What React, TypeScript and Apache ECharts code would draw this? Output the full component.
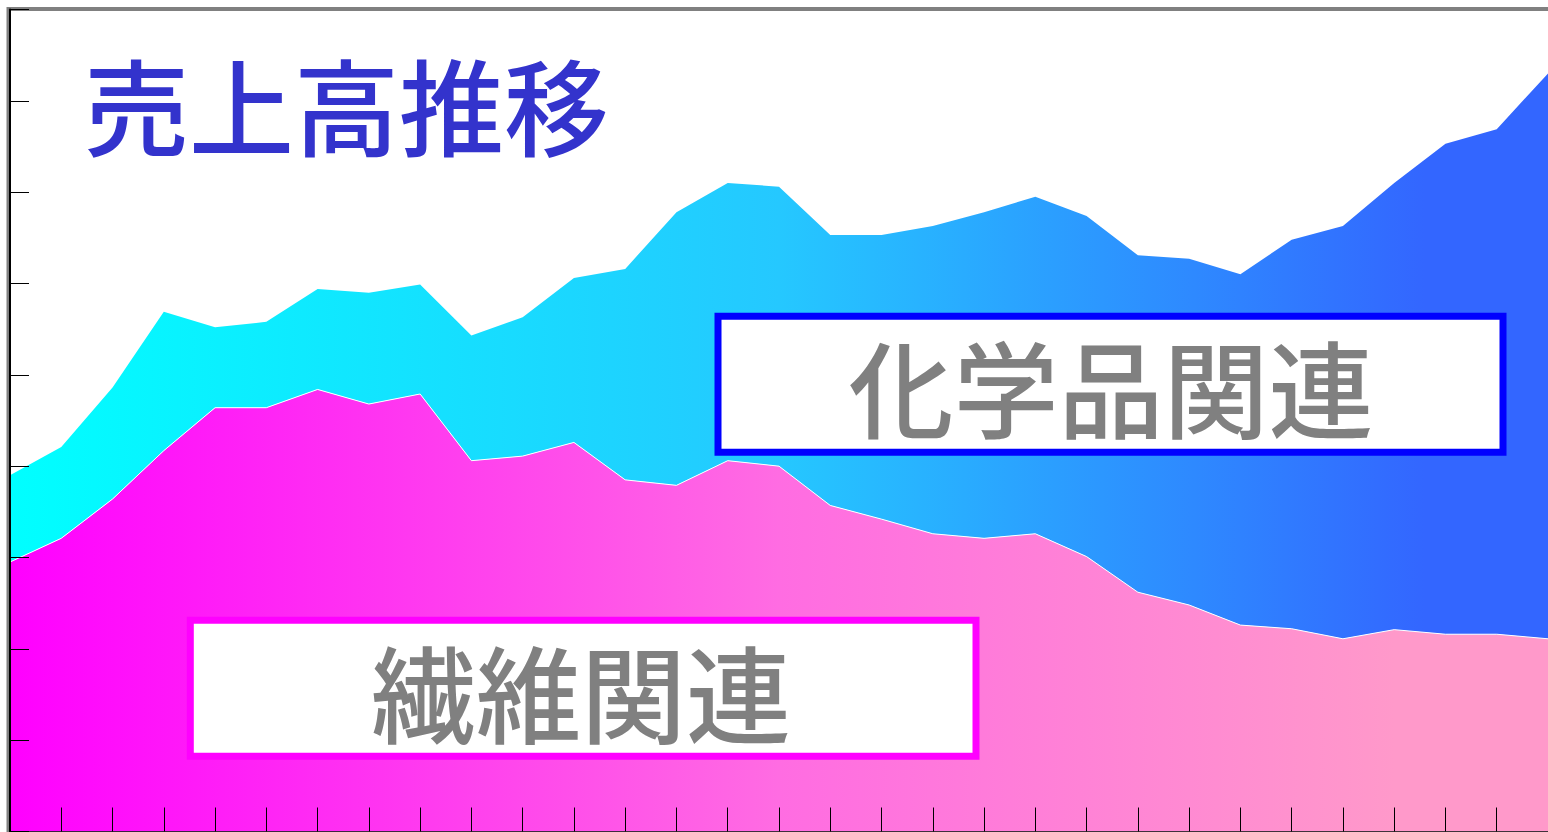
import React, { useEffect, useRef } from "react";
import * as echarts from "echarts";

const categories: string[] = Array.from({ length: 31 }, (_, i) => String(i + 1));

// 繊維関連 (bottom layer)
const fiberValues: number[] = [
  295, 321, 364, 417, 464, 464, 484, 468, 479, 406, 411, 426, 385, 379, 406, 400,
  357, 342, 326, 321, 326, 301, 262, 248, 226, 222, 211, 221, 216, 216, 211,
];

// 化学品関連 (stacked on top)
const chemValues: number[] = [
  95, 100, 122, 152, 88, 94, 110, 122, 120, 137, 152, 180, 231, 299, 304, 306,
  296, 311, 337, 357, 369, 373, 369, 379, 384, 426, 452, 489, 537, 553, 619,
];

const titleText = "売上高推移";
const chemLabel = "化学品関連";
const fiberLabel = "繊維関連";

const FONT = "'Noto Sans CJK JP', 'Noto Sans', sans-serif";

export default function App() {
  const ref = useRef<HTMLDivElement>(null);

  useEffect(() => {
    if (!ref.current) return;
    const chart = echarts.init(ref.current, undefined, { renderer: "svg" });
    chart.setOption({
      animation: false,
      backgroundColor: "#ffffff",
      grid: { left: 10, right: 0, top: 9.5, bottom: 0.5, outerBoundsMode: "none" },
      xAxis: {
        type: "category",
        data: categories,
        boundaryGap: false,
        z: 10,
        axisLine: { show: true, lineStyle: { color: "#000000", width: 1.5 } },
        axisTick: { show: true, inside: true, length: 24, lineStyle: { color: "#000000", width: 1 } },
        axisLabel: { show: false },
        splitLine: { show: false },
      },
      yAxis: {
        type: "value",
        min: 0,
        max: 900,
        interval: 100,
        z: 10,
        axisLine: { show: true, lineStyle: { color: "#000000", width: 2 } },
        axisTick: { show: true, inside: true, length: 19, lineStyle: { color: "#000000", width: 1 } },
        axisLabel: { show: false },
        splitLine: { show: false },
      },
      series: [
        {
          name: fiberLabel,
          type: "line",
          stack: "total",
          data: fiberValues,
          showSymbol: false,
          symbol: "none",
          lineStyle: { color: "#ffffff", width: 1 },
          areaStyle: {
            opacity: 1,
            color: new echarts.graphic.LinearGradient(0, 0, 1, 0, [
              { offset: 0, color: "#ff00ff" },
              { offset: 0.5, color: "#ff6ce2" },
              { offset: 0.9, color: "#ff99ca" },
              { offset: 1, color: "#ff99ca" },
            ]),
          },
        },
        {
          name: chemLabel,
          type: "line",
          stack: "total",
          data: chemValues,
          showSymbol: false,
          symbol: "none",
          lineStyle: { width: 0, color: "#ffffff" },
          areaStyle: {
            opacity: 1,
            color: new echarts.graphic.LinearGradient(0, 0, 1, 0, [
              { offset: 0, color: "#00ffff" },
              { offset: 0.5, color: "#25c8ff" },
              { offset: 0.92, color: "#3366ff" },
              { offset: 1, color: "#3366ff" },
            ]),
          },
        },
      ],
      graphic: [
        {
          type: "polyline",
          z: 1,
          shape: { points: [[8.5, 832], [8.5, 9], [1548, 9]] },
          style: { stroke: "#808080", lineWidth: 4, fill: null },
        },
        {
          type: "text",
          z: 20,
          x: 84,
          y: 102,
          style: {
            text: titleText,
            font: `500 105px ${FONT}`,
            fill: "#3333cc",
            textAlign: "left",
            textVerticalAlign: "middle",
          },
        },
        {
          type: "rect",
          z: 20,
          shape: { x: 718, y: 316.3, width: 785, height: 136 },
          style: { fill: "#ffffff", stroke: "#0000ff", lineWidth: 7 },
        },
        {
          type: "text",
          z: 21,
          x: 1111,
          y: 384,
          style: {
            text: chemLabel,
            font: `500 105px ${FONT}`,
            fill: "#808080",
            textAlign: "center",
            textVerticalAlign: "middle",
          },
        },
        {
          type: "rect",
          z: 20,
          shape: { x: 190.3, y: 620.3, width: 785.7, height: 136 },
          style: { fill: "#ffffff", stroke: "#ff00ff", lineWidth: 7 },
        },
        {
          type: "text",
          z: 21,
          x: 581,
          y: 689,
          style: {
            text: fiberLabel,
            font: `500 105px ${FONT}`,
            fill: "#808080",
            textAlign: "center",
            textVerticalAlign: "middle",
          },
        },
      ],
    });
    return () => chart.dispose();
  }, []);

  return (
    <div
      ref={ref}
      style={{ position: "fixed", left: 0, top: 0, width: 1548, height: 832 }}
    />
  );
}
